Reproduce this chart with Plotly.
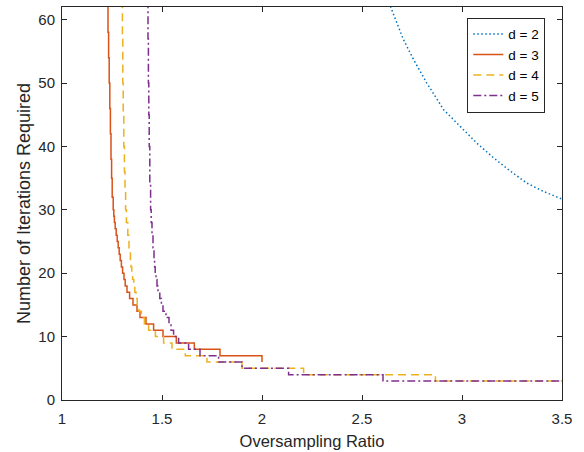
import plotly.graph_objects as go

# ---- data ----
# d = 2 (dotted curve)
d2_ratio = [2.642, 2.708, 2.758, 2.824, 2.908, 2.992, 3.075, 3.158, 3.242, 3.325, 3.408, 3.50]
d2_iters = [62.1, 56.8, 53.7, 50.0, 45.8, 43.2, 40.5, 38.2, 36.1, 34.2, 32.9, 31.7]

# d = 3 : ratio at which the iteration count first reaches each value
d3_ratio = [1.227, 1.230, 1.233, 1.236, 1.239, 1.242, 1.245, 1.248, 1.251, 1.256, 1.259, 1.262,
            1.266, 1.271, 1.276, 1.281, 1.286, 1.291, 1.297, 1.303, 1.310, 1.316, 1.325,
            1.338, 1.355, 1.375, 1.390, 1.420, 1.458, 1.505, 1.5715, 1.6615, 1.790, 2.000]
d3_iters = [63, 58, 54, 50, 46, 42, 38, 35, 32, 30, 29, 28,
            27, 26, 25, 24, 23, 22, 21, 20, 19, 18, 17,
            16, 15, 14, 13, 12, 11, 10, 9, 8, 7, 6]

# d = 4
d4_ratio = [1.300, 1.302, 1.304, 1.306, 1.309, 1.312, 1.315, 1.318, 1.322, 1.329, 1.335,
            1.342, 1.345, 1.349, 1.353, 1.359, 1.364, 1.370, 1.376, 1.385, 1.397, 1.412,
            1.433, 1.467, 1.508, 1.550, 1.6165, 1.725, 1.900, 2.208, 2.867, 3.50]
d4_iters = [63, 57, 50, 45, 40, 36, 33, 30, 28, 26, 24,
            22, 21, 20, 19, 18, 17, 16, 15, 14, 13, 12,
            11, 10, 9, 8, 7, 6, 5, 4, 3, 3]

# d = 5
d5_ratio = [1.428, 1.430, 1.432, 1.434, 1.436, 1.439, 1.443, 1.446, 1.450, 1.455, 1.460,
            1.463, 1.466, 1.470, 1.475, 1.480, 1.489, 1.497, 1.505, 1.520, 1.535, 1.545,
            1.558, 1.583, 1.633, 1.690, 1.783, 1.900, 2.133, 2.605, 3.50]
d5_iters = [63, 57, 50, 45, 40, 34, 30, 28, 26, 24, 22,
            21, 20, 19, 18, 17, 16, 15, 14, 13, 12, 11,
            10, 9, 8, 7, 6, 5, 4, 3, 3]

x_ticks = [1, 1.5, 2, 2.5, 3, 3.5]
x_tick_labels = ["1", "1.5", "2", "2.5", "3", "3.5"]
y_ticks = [0, 10, 20, 30, 40, 50, 60]

FONT = "Liberation Sans, Arial, Helvetica, sans-serif"
AX = "#262626"

fig = go.Figure()
fig.add_trace(go.Scatter(x=d2_ratio, y=d2_iters, mode="lines", name="d = 2",
                         line=dict(color="#0072BD", width=1.5, dash="1.5px,2.5px")))
fig.add_trace(go.Scatter(x=d3_ratio, y=d3_iters, mode="lines", name="d = 3",
                         line=dict(color="#D95319", width=1.5, shape="hv")))
fig.add_trace(go.Scatter(x=d4_ratio, y=d4_iters, mode="lines", name="d = 4",
                         line=dict(color="#EDB120", width=1.5, shape="hv", dash="8px,5px")))
fig.add_trace(go.Scatter(x=d5_ratio, y=d5_iters, mode="lines", name="d = 5",
                         line=dict(color="#7E2F8E", width=1.5, shape="hv", dash="8px,3px,2px,3px")))

axis_common = dict(showline=True, linecolor=AX, linewidth=1, mirror="allticks",
                   ticks="inside", ticklen=5, tickcolor=AX, showgrid=False, zeroline=False,
                   automargin=False,
                   tickfont=dict(family=FONT, size=15, color=AX))

fig.update_xaxes(range=[1, 3.5], tickvals=x_ticks, ticktext=x_tick_labels, ticklabelstandoff=5,
                 title=dict(text="Oversampling Ratio", font=dict(family=FONT, size=16.5, color=AX),
                            standoff=9),
                 **axis_common)
fig.update_yaxes(range=[0, 62], tickvals=y_ticks, ticklabelstandoff=3,
                 title=dict(text="Number of Iterations Required",
                            font=dict(family=FONT, size=18, color=AX), standoff=3),
                 **axis_common)

fig.update_layout(
    width=584, height=452,
    margin=dict(l=62, r=22, t=7, b=52, autoexpand=False),
    plot_bgcolor="white", paper_bgcolor="white",
    font=dict(family=FONT, color=AX),
    legend=dict(x=0.9666, y=0.973, xanchor="right", yanchor="top",
                bgcolor="white", bordercolor=AX, borderwidth=1,
                font=dict(family=FONT, size=13.5, color="#000000"),
                tracegroupgap=0),
)

fig.write_html("out.html", config={"displayModeBar": False},
               post_script="document.body.style.margin='0';")
